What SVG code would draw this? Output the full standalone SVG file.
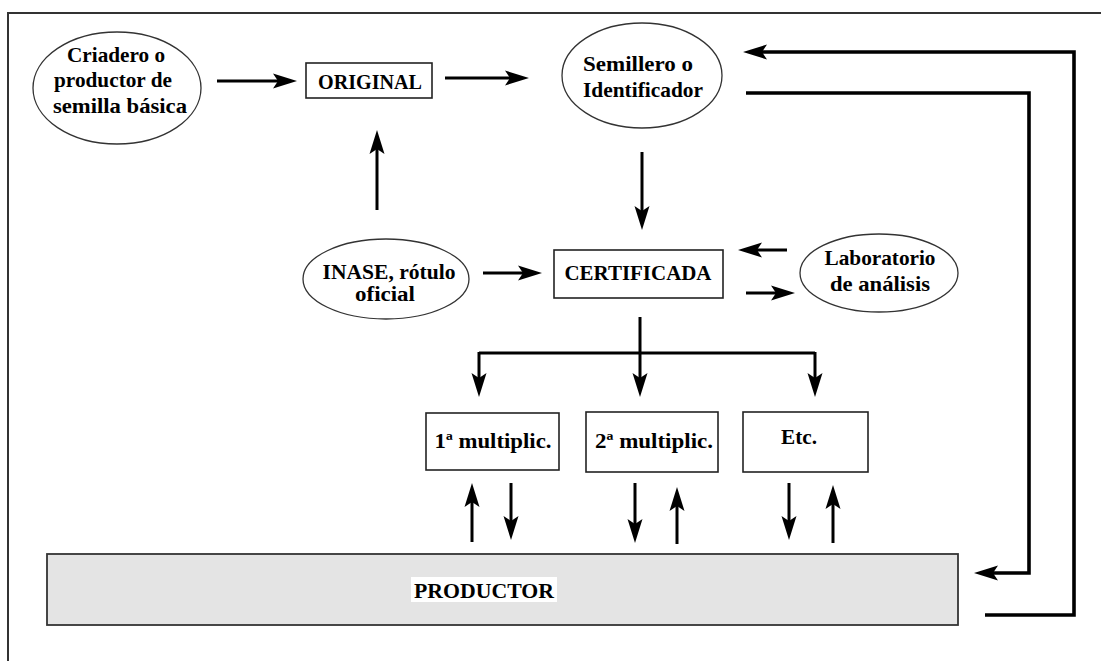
<svg xmlns="http://www.w3.org/2000/svg" width="1101" height="661" viewBox="0 0 1101 661">
<style>
  .box { fill: #ffffff; stroke: #222222; stroke-width: 1.6; }
  .ell { fill: #ffffff; stroke: #333333; stroke-width: 1.3; }
  .prod { fill: #e4e4e4; stroke: #333333; stroke-width: 1.8; }
  .t { font-family: "Liberation Serif", "Times New Roman", serif; font-weight: bold; font-size: 21px; fill: #000000; text-anchor: middle; }
  .s { font-size: 20px; }
  .c { fill: none; stroke: #000000; stroke-width: 3; stroke-linecap: butt; stroke-linejoin: miter; }
  .r { fill: none; stroke: #000000; stroke-width: 3.6; stroke-linejoin: miter; }
  .frame { fill: none; stroke: #333333; stroke-width: 2; }
</style>
<defs>
  <marker id="ah" viewBox="0 0 24 16" markerWidth="24" markerHeight="16" markerUnits="userSpaceOnUse" refX="12" refY="8" orient="auto">
    <path d="M0,0.5 L24,8 L0,15.5 L5,8 Z" fill="#000000"/>
  </marker>
</defs>
<rect width="1101" height="661" fill="#ffffff"/>
<path class="frame" d="M8,661 V13 H1101"/>

<g id="criadero">
  <ellipse class="ell" cx="117" cy="88" rx="84" ry="56"/>
  <text class="t" x="116" y="62" textLength="98" lengthAdjust="spacingAndGlyphs">Criadero o</text>
  <text class="t" x="113" y="87" textLength="118" lengthAdjust="spacingAndGlyphs">productor de</text>
  <text class="t" x="120" y="113" textLength="134" lengthAdjust="spacingAndGlyphs">semilla básica</text>
</g>
<g id="original">
  <rect class="box" x="306" y="63" width="126" height="35"/>
  <text class="t" x="370" y="89" textLength="104" lengthAdjust="spacingAndGlyphs">ORIGINAL</text>
</g>
<g id="semillero">
  <ellipse class="ell" cx="642" cy="75.5" rx="80" ry="52.5"/>
  <text class="t" x="638" y="71" textLength="110" lengthAdjust="spacingAndGlyphs">Semillero o</text>
  <text class="t" x="643" y="97" textLength="120" lengthAdjust="spacingAndGlyphs">Identificador</text>
</g>
<g id="inase">
  <ellipse class="ell" cx="386" cy="279" rx="83" ry="40"/>
  <text class="t s" x="389" y="279" textLength="133" lengthAdjust="spacingAndGlyphs">INASE, rótulo</text>
  <text class="t s" x="385" y="301" textLength="60" lengthAdjust="spacingAndGlyphs">oficial</text>
</g>
<g id="certificada">
  <rect class="box" x="554" y="250" width="169" height="48"/>
  <text class="t" x="638" y="280" textLength="147" lengthAdjust="spacingAndGlyphs">CERTIFICADA</text>
</g>
<g id="laboratorio">
  <ellipse class="ell" cx="879" cy="273" rx="79" ry="39"/>
  <text class="t" x="880" y="265" textLength="111" lengthAdjust="spacingAndGlyphs">Laboratorio</text>
  <text class="t" x="880" y="291" textLength="100" lengthAdjust="spacingAndGlyphs">de análisis</text>
</g>
<g id="mult1">
  <rect class="box" x="426" y="413" width="133" height="57"/>
  <text class="t" x="493" y="448" textLength="117" lengthAdjust="spacingAndGlyphs">1ª multiplic.</text>
</g>
<g id="mult2">
  <rect class="box" x="586" y="412" width="132" height="60"/>
  <text class="t" x="654" y="448" textLength="118" lengthAdjust="spacingAndGlyphs">2ª multiplic.</text>
</g>
<g id="etc">
  <rect class="box" x="743" y="412" width="125" height="60"/>
  <text class="t" x="799" y="444" textLength="36" lengthAdjust="spacingAndGlyphs">Etc.</text>
</g>
<g id="productor">
  <rect class="prod" x="47" y="554" width="911" height="71"/>
  <rect x="411" y="577" width="146" height="25" fill="#ffffff"/>
  <text class="t" x="484" y="598" textLength="140" lengthAdjust="spacingAndGlyphs">PRODUCTOR</text>
</g>

<g id="connectors">
  <path class="c" d="M217,81 H285" marker-end="url(#ah)"/>
  <path class="c" d="M445,78 H517" marker-end="url(#ah)"/>
  <path class="c" d="M377,210 V142" marker-end="url(#ah)"/>
  <path class="c" d="M642,152 V218" marker-end="url(#ah)"/>
  <path class="r" d="M985,615 H1074 V52 H755" marker-end="url(#ah)"/>
  <path class="r" d="M746,93 H1029 V573 H986" marker-end="url(#ah)"/>
  <path class="c" d="M483,273 H530" marker-end="url(#ah)"/>
  <path class="c" d="M787,250 H750" marker-end="url(#ah)"/>
  <path class="c" d="M746,293 H783" marker-end="url(#ah)"/>
  <path class="c" d="M640,317 V385" marker-end="url(#ah)"/>
  <path class="c" d="M479,353 H815"/>
  <path class="c" d="M479,352 V385" marker-end="url(#ah)"/>
  <path class="c" d="M815,352 V385" marker-end="url(#ah)"/>
  <path class="c" d="M472,542 V495" marker-end="url(#ah)"/>
  <path class="c" d="M511,483 V528" marker-end="url(#ah)"/>
  <path class="c" d="M635,483 V531" marker-end="url(#ah)"/>
  <path class="c" d="M677,544 V499" marker-end="url(#ah)"/>
  <path class="c" d="M789,483 V528" marker-end="url(#ah)"/>
  <path class="c" d="M833,543 V497" marker-end="url(#ah)"/>
</g>
</svg>
